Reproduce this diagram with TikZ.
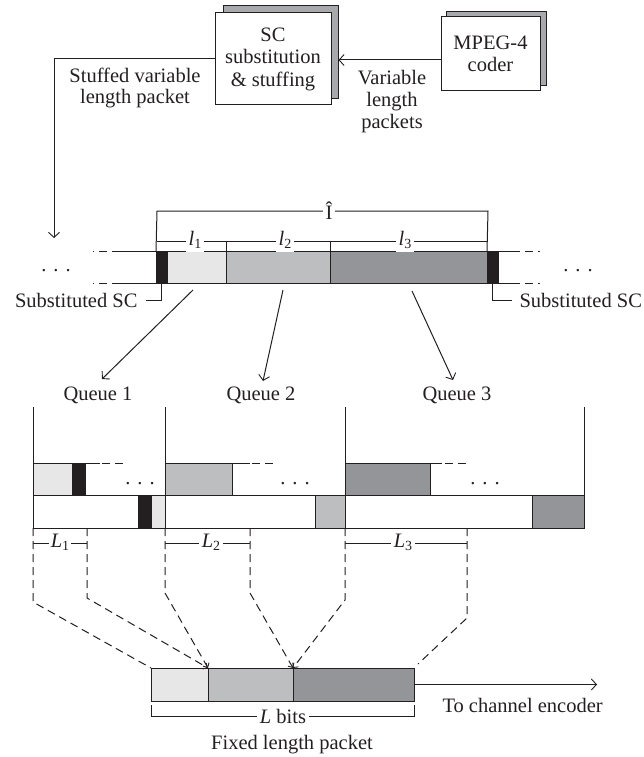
\documentclass[tikz,border=0pt]{standalone}
\usepackage{fontspec}
\setmainfont{Liberation Serif}
\usetikzlibrary{arrows.meta}
\definecolor{gA}{HTML}{E6E7E6}
\definecolor{gB}{HTML}{BCBEC0}
\definecolor{gC}{HTML}{939598}
\definecolor{blk}{HTML}{231F20}
\definecolor{shd}{HTML}{A7A9AC}
\newcommand\segbox[6]{\node[segbox, fill=#6, minimum width={(#4-#2)*1pt}, minimum height={(#5-#3)*1pt}] (#1) at (#2,#3) {};}
\newcommand\sbs[2]{\textit{#1}\raisebox{-0.35ex}{\fontsize{14}{14}\selectfont #2}}
\newcommand\threedots{.\hspace{7pt}.\hspace{7pt}.}
\begin{document}
\begin{tikzpicture}[x=1pt,y=-1pt,color=blk,line width=1pt,
  font=\fontsize{20.5}{19.5}\selectfont,
  arr/.style={-{Straight Barb[length=5pt,width=11pt,line width=0.9pt]}},
  sarr/.style={-{Straight Barb[length=3.5pt,width=7pt,line width=0.9pt]}},
  dsh/.style={dash pattern=on 8pt off 5pt},
  segbox/.style={draw, inner sep=0pt, outer sep=0pt, anchor=north west},
  lbl/.style={fill=white, inner sep=3pt},
  box/.style={draw, align=center, inner sep=0pt}]
\useasboundingbox (0,0) rectangle (644,757);

% ---------- top boxes ----------
\node[box, fill=shd, minimum width=115pt, minimum height=93pt] (scs) at (280.5,52.5) {};
\node[box, fill=white, minimum width=116pt, minimum height=92pt, font=\fontsize{20.5}{22.5}\selectfont] (sc) at (273,59) {SC\\substitution\\\& stuffing};
\node[box, fill=shd, minimum width=100pt, minimum height=74pt] (mps) at (496,49) {};
\node[box, fill=white, minimum width=99pt, minimum height=74pt, font=\fontsize{20.5}{21.5}\selectfont] (mp) at (490.5,54) {MPEG-4\\coder};
\draw[arr] ([yshift=-6pt]mp.west) -- ([yshift=-6pt]mp.west -| scs.east);
\node[align=center, font=\fontsize{20.5}{22}\selectfont] (vlp) at (392,102) {Variable\\length\\packets};
\node[align=center, font=\fontsize{20.5}{21}\selectfont] (svl) at (135,88) {Stuffed variable\\length packet};
\coordinate (inA) at (54,238);
\draw[arr] (sc.west) -| (inA);

% ---------- stuffed packet ----------
\segbox{scL}{156}{251}{167}{283}{blk}
\segbox{s1}{167}{251}{226}{283}{gA}
\segbox{s2}{226}{251}{330}{283}{gB}
\segbox{s3}{330}{251}{487}{283}{gC}
\segbox{scR}{487}{251}{498}{283}{blk}
\draw (scL.north west) -- (120,251);
\draw[dsh] (120,251) -- (93,251);
\draw (scL.south west) -- (120,283);
\draw[dsh] (120,283) -- (93,283);
\draw (scR.north east) -- (512,251);
\draw[dsh] (512,251) -- (540,251);
\draw (scR.south east) -- (512,283);
\draw[dsh] (512,283) -- (540,283);
\node[anchor=base] (dL) at (56,271) {\threedots};
\node[anchor=base] (dR) at (578,271) {\threedots};

% brackets
\draw (scL.north west) -- (157,211) -- (488,211) -- (scR.north west);
\node[lbl] (ihat) at (329,211) {Î};
\draw (157,241) -- (488,241);
\draw (s2.north west) -- (226,241);
\draw (s3.north west) -- (330,241);
\node[lbl] (l1) at (195,240) {\sbs{l}{1}};
\node[lbl] (l2) at (285,240) {\sbs{l}{2}};
\node[lbl] (l3) at (405,240) {\sbs{l}{3}};

% substituted SC callouts
\draw (scL.south) -- (161.5,300) -- (146,300);
\node[anchor=east, inner sep=0pt] (subL) at (138,300) {Substituted SC};
\draw (scR.south) -- (492.5,300) -- (512,300);
\node[anchor=west, inner sep=0pt] (subR) at (519,300) {Substituted SC};

% arrows to queues
\coordinate (a1) at (193,290); \coordinate (t1) at (102,379);
\coordinate (a2) at (283,290); \coordinate (t2) at (263,381);
\coordinate (a3) at (412,291); \coordinate (t3) at (453,380);
\draw[arr] (a1) -- (t1);
\draw[arr] (a2) -- (t2);
\draw[arr] (a3) -- (t3);
\node (q1) at (98,395) {Queue 1};
\node (q2) at (261,395) {Queue 2};
\node (q3) at (457,395) {Queue 3};

% ---------- queues ----------
\segbox{u1a}{33}{463}{72}{495}{gA}
\segbox{u1b}{72}{463}{85}{495}{blk}
\draw (u1b.north east) -- (100,463);
\draw[dsh] (102,463) -- (125,463);
\node[anchor=base] (qd1) at (140,484) {\threedots};
\segbox{u2}{165}{463}{232}{495}{gB}
\draw (u2.north east) -- (250,463);
\draw[dsh] (252,463) -- (275,463);
\node[anchor=base] (qd2) at (295,484) {\threedots};
\segbox{u3}{345}{463}{430}{495}{gC}
\draw (u3.north east) -- (442,463);
\draw[dsh] (445,463) -- (467,463);
\node[anchor=base] (qd3) at (485,484) {\threedots};
\segbox{w1a}{138}{495}{151}{528}{blk}
\segbox{w1b}{151}{495}{165}{528}{gA}
\segbox{w2}{315}{495}{345}{528}{gB}
\segbox{w3}{532}{495}{584}{528}{gC}
\draw (33,495) -- (584,495);
\draw (33,528) -- (584,528);
\foreach \xx in {33,165,345,584} \draw (\xx,407) -- (\xx,528);

% ---------- fixed length packet ----------
\segbox{f1}{151}{668}{208}{701}{gA}
\segbox{f2}{208}{668}{293}{701}{gB}
\segbox{f3}{293}{668}{414}{701}{gC}

% dashed guides
\draw[dsh] (33,528) -- (33,602) -- (f1.north west);
\draw[dsh,sarr] (87,528) -- (87,598) -- (f2.north west);
\draw[dsh,sarr] (165,528) -- (165,593) -- (f2.north west);
\draw[dsh,sarr] (250,528) -- (250,593) -- (f3.north west);
\draw[dsh,sarr] (345,528) -- (345,600) -- (f3.north west);
\draw[dsh] (467,528) -- (467,618) -- (418,664);

% L brackets
\draw (33,543) -- (87,543);
\node[lbl, inner sep=1.5pt] (L1) at (60,542) {\sbs{L}{1}};
\draw (165,543) -- (250,543);
\node[lbl] (L2) at (211,542) {\sbs{L}{2}};
\draw (345,543) -- (467,543);
\node[lbl] (L3) at (403,542) {\sbs{L}{3}};

% output
\coordinate (out) at (597,683);
\draw[arr] (f3.east) -- (f3.east -| out);
\node[anchor=west, inner sep=0pt] (tce) at (442,705) {To channel encoder};
\draw (151,705) -- (151,716) -- (414,716) -- (414,705);
\node[lbl] (lb) at (283,716) {\textit{L} bits};
\node (flp) at (292,745) {Fixed length packet};
\end{tikzpicture}
\end{document}
